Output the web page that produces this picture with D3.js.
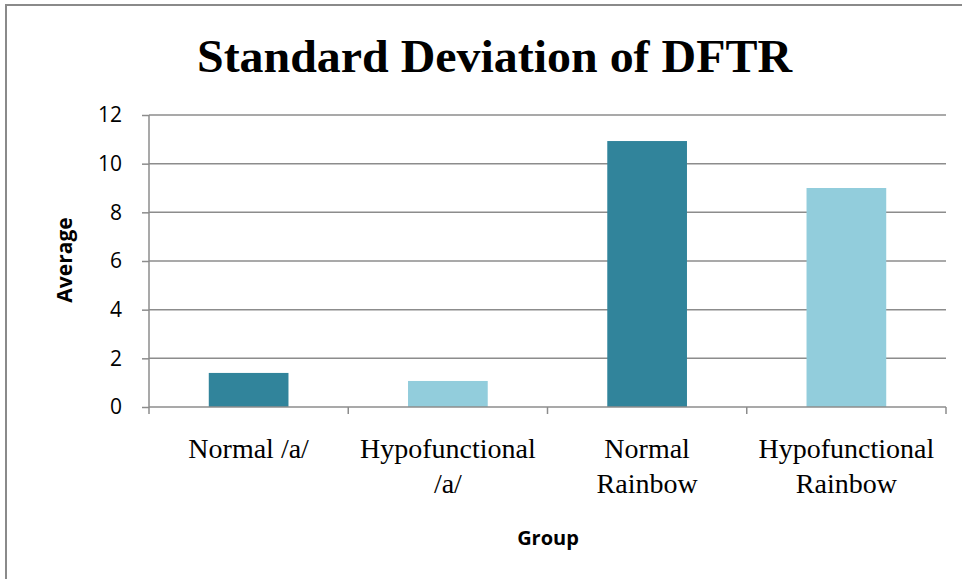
<!DOCTYPE html>
<html><head><meta charset="utf-8">
<script src="https://cdn.jsdelivr.net/npm/d3@7"></script>
<style>body{margin:0;background:#fff}svg{display:block}</style>
</head><body>
<script>
const categories = [["Normal /a/"], ["Hypofunctional", "/a/"], ["Normal", "Rainbow"], ["Hypofunctional", "Rainbow"]];
const values = [1.4, 1.07, 10.93, 9.0];
const barColors = ["#31849B", "#92CDDC", "#31849B", "#92CDDC"];
const yTicks = [0, 2, 4, 6, 8, 10, 12];
const title = "Standard Deviation of DFTR";
const yLabel = "Average";
const xLabel = "Group";

const W = 962, H = 579;
const svg = d3.select("body").append("svg").attr("width", W).attr("height", H);
svg.append("rect").attr("width", W).attr("height", H).attr("fill", "#fff");
// chart border
svg.append("path").attr("d", `M6,${H} L6,5 L${W},5`).attr("fill", "none").attr("stroke", "#8a8a8a").attr("stroke-width", 2);

const pL = 149, pR = 946, pT = 115, pB = 407;
const x = d3.scaleBand().domain(d3.range(categories.length)).range([pL, pR]).paddingInner(0.6).paddingOuter(0.3);
const xOuter = d3.scaleBand().domain(d3.range(categories.length)).range([pL, pR]);
const y = d3.scaleLinear().domain([0, 12]).range([pB, pT]);

// gridlines
svg.append("g").selectAll("line").data(yTicks.filter(d => d > 0)).join("line")
  .attr("x1", pL).attr("x2", pR).attr("y1", d => y(d)).attr("y2", d => y(d))
  .attr("stroke", "#8c8c8c").attr("stroke-width", 1.5);

// bars
svg.append("g").selectAll("rect").data(values).join("rect")
  .attr("x", (d, i) => x(i)).attr("width", x.bandwidth())
  .attr("y", d => y(d)).attr("height", d => y(0) - y(d))
  .attr("fill", (d, i) => barColors[i]);

// y axis
const yAxis = svg.append("g").attr("transform", `translate(${pL},0)`)
  .call(d3.axisLeft(y).tickValues(yTicks).tickSize(7).tickPadding(20).tickFormat(d3.format("d")));
yAxis.select(".domain").attr("stroke", "#8c8c8c").attr("stroke-width", 1.5).attr("d", `M0,${pT}V${pB}`);
yAxis.selectAll(".tick line").attr("stroke", "#8c8c8c").attr("stroke-width", 1.5);
yAxis.selectAll(".tick text").attr("fill", "#000").style("font-family", "'Open Sans', 'Liberation Sans', sans-serif").style("font-size", "21px");

// x axis line & ticks
const xg = svg.append("g");
xg.append("line").attr("x1", pL).attr("x2", pR).attr("y1", pB).attr("y2", pB).attr("stroke", "#8c8c8c").attr("stroke-width", 1.5);
const bounds = d3.range(categories.length + 1).map(i => i < categories.length ? xOuter(i) : pR);
xg.selectAll(".xt").data(bounds).join("line").attr("class", "xt")
  .attr("x1", d => d).attr("x2", d => d).attr("y1", pB).attr("y2", pB + 7)
  .attr("stroke", "#8c8c8c").attr("stroke-width", 1.5);

// category labels
const cl = svg.append("g").selectAll("text").data(categories).join("text")
  .attr("text-anchor", "middle")
  .style("font-family", "'Liberation Serif', 'Times New Roman', serif").style("font-size", "28px").attr("fill", "#000");
cl.each(function(d, i) {
  const t = d3.select(this);
  d.forEach((line, j) => {
    t.append("tspan").attr("x", xOuter(i) + xOuter.bandwidth() / 2).attr("y", 458 + j * 35).text(line);
  });
});

// title
svg.append("text").attr("x", 494.5).attr("y", 72).attr("text-anchor", "middle")
  .attr("textLength", 595).attr("lengthAdjust", "spacingAndGlyphs")
  .style("font-family", "'Liberation Serif', 'Times New Roman', serif").style("font-weight", "bold").style("font-size", "46px")
  .text(title);

// y label
svg.append("text").attr("transform", `translate(72,260) rotate(-90)`).attr("text-anchor", "middle")
  .style("font-family", "'Open Sans', 'Liberation Sans', sans-serif").style("font-weight", "bold").style("font-size", "21px")
  .text(yLabel);

// x label
svg.append("text").attr("x", 548).attr("y", 545).attr("text-anchor", "middle")
  .style("font-family", "'Open Sans', 'Liberation Sans', sans-serif").style("font-weight", "bold").style("font-size", "20px")
  .text(xLabel);
</script>
</body></html>
